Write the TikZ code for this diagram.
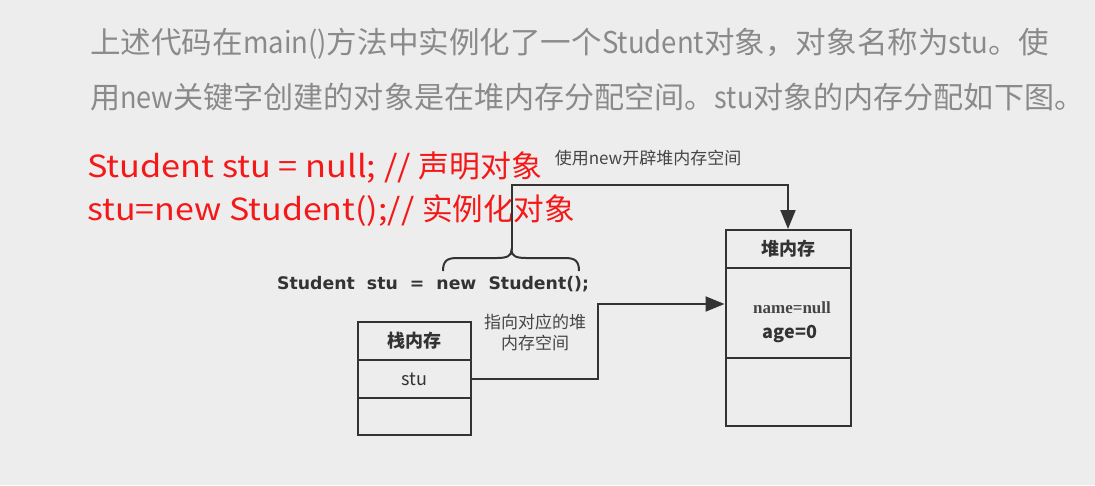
\documentclass[tikz,border=0pt]{standalone}
\usepackage{fontspec}
\usepackage{graphicx}
\usetikzlibrary{arrows.meta}
\newfontfamily\cjk{Noto Sans CJK SC}
\newfontfamily\cjkn[FakeStretch=0.9]{Noto Sans CJK SC}
\newfontfamily\cjkw[FakeStretch=1.11]{Noto Sans CJK SC}
\newfontfamily\dvb{DejaVu Sans}
\newfontfamily\lser{Liberation Serif}
\newcommand{\nlat}[1]{{\cjkn #1}}
\newcommand{\wlat}[1]{{\cjkw #1}}
\definecolor{bgc}{HTML}{EDEDED}
\definecolor{topgray}{HTML}{8A8A8A}
\definecolor{lnc}{HTML}{333333}
\definecolor{lbl}{HTML}{454545}
\definecolor{redt}{HTML}{F51818}
\tikzset{
  toptext/.style={anchor=base west, inner sep=0pt, text=topgray, font=\cjk\fontsize{30}{32}\selectfont},
  redtext/.style={anchor=base west, inner sep=0pt, text=redt, font=\cjk\fontsize{30.5}{32}\selectfont},
  lab/.style={inner sep=0pt, text=lbl, font=\cjk\fontsize{17}{21}\selectfont, align=center},
  cell/.style={draw=lnc, line width=2pt, minimum width=125pt, inner sep=0pt, text=lnc},
  scell/.style={draw=lnc, line width=2pt, minimum width=113.3pt, inner sep=0pt, text=lnc},
  conn/.style={draw=lnc, line width=2pt},
  arr/.style={conn, -{Triangle[length=19pt,width=15pt]}},
}
\begin{document}
\begin{tikzpicture}[x=1pt,y=-1pt]
\fill[bgc] (0,0) rectangle (1095,485);
\useasboundingbox (0,0) rectangle (1095,485);
% top paragraph
\node[toptext] (p1) at (90,53) {\resizebox{959pt}{\height}{上述代码在\nlat{main()}方法中实例化了一个\nlat{Student}对象，对象名称为\nlat{stu}。使}};
\node[toptext] (p2) at (90,108) {\resizebox{994pt}{\height}{用\nlat{new}关键字创建的对象是在堆内存分配空间。\nlat{stu}对象的内存分配如下图。}};
% red code
\node[redtext] (r1) at (87,177) {\resizebox{455pt}{\height}{\wlat{Student stu = null; // }声明对象}};
\node[redtext] (r2) at (87,220) {\resizebox{488pt}{\height}{\wlat{stu=new Student();// }实例化对象}};
% label top
\node[lab] (l1) at (648,158) {使用new开辟堆内存空间};
% code line
\node[anchor=base west, inner sep=0pt, text=lnc, font=\dvb\bfseries\fontsize{17.3}{20}\selectfont] (code) at (277,289) {Student\ \ stu\ \ =\ \ new\ \ Student();};
% heap boxes
\node[cell, minimum height=38pt, font=\cjk\bfseries\fontsize{18}{20}\selectfont] (hh) at (788,249) {堆内存};
\node[cell, minimum height=90pt] (hb) at (788,313) {};
\node[cell, minimum height=67.7pt] (hf) at (788,391.85) {};
\node[inner sep=0pt, text=lbl, font=\lser\bfseries\fontsize{17}{20}\selectfont] (nm) at (792,308) {name=null};
\node[inner sep=0pt, text=lnc, font=\cjk\bfseries\fontsize{18}{20}\selectfont] (ag) at (790,334) {age=0};
% stack boxes
\node[scell, minimum height=38.3pt, font=\cjk\bfseries\fontsize{18}{20}\selectfont] (sh) at (414.4,341) {栈内存};
\node[scell, minimum height=38pt, font=\cjk\fontsize{18}{20}\selectfont] (su) at (414.4,379) {stu};
\node[scell, minimum height=37pt] (sf) at (414.4,416.5) {};
% label pointer
\node[lab] (l2) at (535,332) {指向对应的堆\\内存空间};
% brace
\coordinate (btip) at (511.5,250);
\coordinate (bl) at (443,271);
\coordinate (br) at (579,271);
\draw[conn] (bl) .. controls (443,261) and (447,258) .. (457,258) -- (497,258)
  .. controls (507,258) and (511.5,256) .. (btip)
  .. controls (511.5,256) and (516,258) .. (526,258) -- (565,258)
  .. controls (575,258) and (579,261) .. (br);
% connectors
\coordinate (topy) at (0,185);
\draw[arr] (btip) -- (btip |- topy) -| (hh.north);
\coordinate (hin) at (hb.north west |- 0,304);
\coordinate (bendx) at (598,0);
\draw[arr] (su.east) -- (su.east -| bendx) |- (hin);
\end{tikzpicture}
\end{document}
